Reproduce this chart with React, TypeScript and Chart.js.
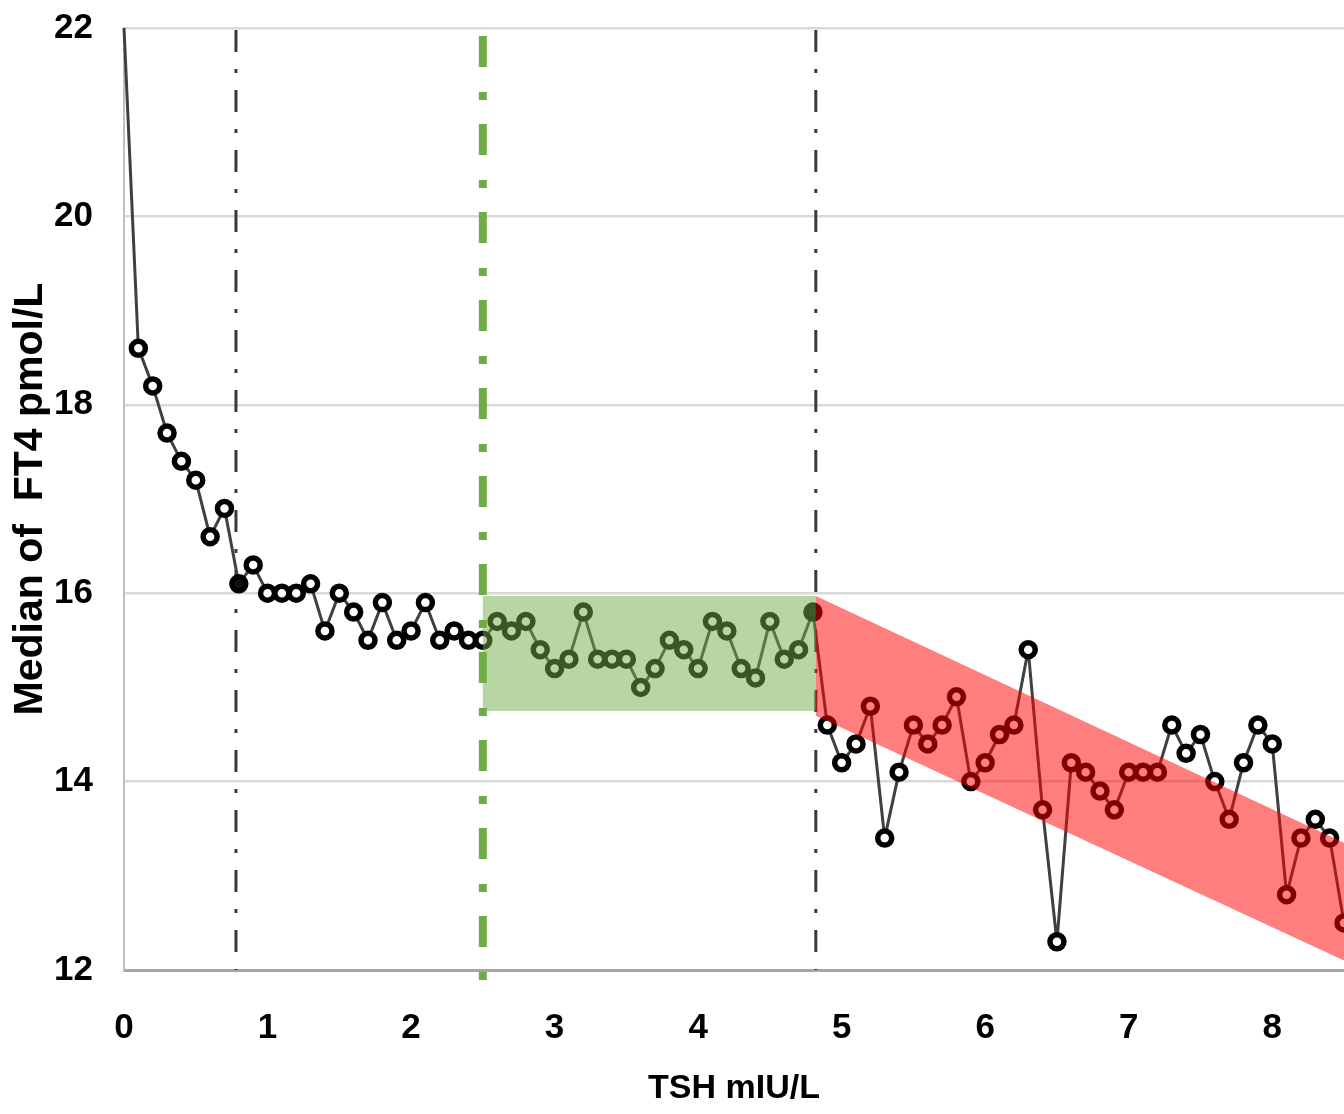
import React, { useEffect, useRef } from "react";
import { Chart, registerables } from "chart.js";

Chart.register(...registerables);

// TSH (mIU/L) categories
const tshValues = [
  0, 0.1, 0.2, 0.3, 0.4, 0.5, 0.6, 0.7, 0.8, 0.9,
  1.0, 1.1, 1.2, 1.3, 1.4, 1.5, 1.6, 1.7, 1.8, 1.9,
  2.0, 2.1, 2.2, 2.3, 2.4, 2.5, 2.6, 2.7, 2.8, 2.9,
  3.0, 3.1, 3.2, 3.3, 3.4, 3.5, 3.6, 3.7, 3.8, 3.9,
  4.0, 4.1, 4.2, 4.3, 4.4, 4.5, 4.6, 4.7, 4.8, 4.9,
  5.0, 5.1, 5.2, 5.3, 5.4, 5.5, 5.6, 5.7, 5.8, 5.9,
  6.0, 6.1, 6.2, 6.3, 6.4, 6.5, 6.6, 6.7, 6.8, 6.9,
  7.0, 7.1, 7.2, 7.3, 7.4, 7.5, 7.6, 7.7, 7.8, 7.9,
  8.0, 8.1, 8.2, 8.3, 8.4, 8.5,
];

// Median FT4 (pmol/L)
const ft4Median = [
  22.0, 18.6, 18.2, 17.7, 17.4, 17.2, 16.6, 16.9, 16.1, 16.3,
  16.0, 16.0, 16.0, 16.1, 15.6, 16.0, 15.8, 15.5, 15.9, 15.5,
  15.6, 15.9, 15.5, 15.6, 15.5, 15.5, 15.7, 15.6, 15.7, 15.4,
  15.2, 15.3, 15.8, 15.3, 15.3, 15.3, 15.0, 15.2, 15.5, 15.4,
  15.2, 15.7, 15.6, 15.2, 15.1, 15.7, 15.3, 15.4, 15.8, 14.6,
  14.2, 14.4, 14.8, 13.4, 14.1, 14.6, 14.4, 14.6, 14.9, 14.0,
  14.2, 14.5, 14.6, 15.4, 13.7, 12.3, 14.2, 14.1, 13.9, 13.7,
  14.1, 14.1, 14.1, 14.6, 14.3, 14.5, 14.0, 13.6, 14.2, 14.6,
  14.4, 12.8, 13.4, 13.6, 13.4, 12.5,
];

// highlighted (filled) points and hidden marker
const filledPoints = [0.8, 4.8];
const hiddenPoints = [0];

// Reference lines
const blackCutoffs = [0.78, 4.82];
const greenCutoff = 2.5;

// Plateau band (green)
const greenBandX = [2.5, 4.82];
const greenBandY = [14.75, 15.97];

// Declining band (red)
const redBandX = [4.82, 8.5];
const redBandTop = [15.97, 13.35];
const redBandBottom = [14.7, 12.1];

const yTicks = [12, 14, 16, 18, 20, 22];
const xTicks = [0, 1, 2, 3, 4, 5, 6, 7, 8];

const labelFont = "'Liberation Sans', Arial, sans-serif";

const linesPlugin = {
  id: "refLines",
  beforeDatasetsDraw(chart: any) {
    const { ctx, chartArea, scales } = chart;
    const xs = scales.x;
    ctx.save();
    // black dash-dot lines
    ctx.strokeStyle = "#3a3a3a";
    ctx.lineWidth = 3;
    ctx.setLineDash([22, 17, 4, 17]);
    blackCutoffs.forEach((v) => {
      const px = xs.getPixelForValue(v);
      ctx.beginPath();
      ctx.moveTo(px, chartArea.top + 2);
      ctx.lineTo(px, chartArea.bottom);
      ctx.stroke();
    });
    // green dash-dot line
    ctx.strokeStyle = "#70AD47";
    ctx.lineWidth = 8;
    ctx.setLineDash([31, 25, 8, 24]);
    const gx = xs.getPixelForValue(greenCutoff);
    ctx.beginPath();
    ctx.moveTo(gx, chartArea.top + 8);
    ctx.lineTo(gx, chartArea.bottom + 14);
    ctx.stroke();
    ctx.restore();
  },
  afterDatasetsDraw(chart: any) {
    const { ctx, chartArea, scales } = chart;
    const xs = scales.x;
    const ys = scales.y;
    ctx.save();
    ctx.beginPath();
    ctx.rect(chartArea.left, chartArea.top, chartArea.right - chartArea.left, chartArea.bottom - chartArea.top);
    ctx.clip();
    // green band
    ctx.fillStyle = "rgba(112,173,71,0.5)";
    const gx0 = xs.getPixelForValue(greenBandX[0]);
    const gx1 = xs.getPixelForValue(greenBandX[1]);
    const gy0 = ys.getPixelForValue(greenBandY[1]);
    const gy1 = ys.getPixelForValue(greenBandY[0]);
    ctx.fillRect(gx0, gy0, gx1 - gx0, gy1 - gy0);
    // red band
    ctx.fillStyle = "rgba(255,0,0,0.5)";
    ctx.beginPath();
    ctx.moveTo(xs.getPixelForValue(redBandX[0]), ys.getPixelForValue(redBandTop[0]));
    ctx.lineTo(xs.getPixelForValue(redBandX[1]), ys.getPixelForValue(redBandTop[1]));
    ctx.lineTo(xs.getPixelForValue(redBandX[1]), ys.getPixelForValue(redBandBottom[1]));
    ctx.lineTo(xs.getPixelForValue(redBandX[0]), ys.getPixelForValue(redBandBottom[0]));
    ctx.closePath();
    ctx.fill();
    ctx.restore();
  },
};

export default function App() {
  const canvasRef = useRef<HTMLCanvasElement | null>(null);

  useEffect(() => {
    document.body.style.margin = "0";
    const canvas = canvasRef.current;
    if (!canvas) return;
    const points = tshValues.map((x, i) => ({ x, y: ft4Median[i] }));
    const chart = new Chart(canvas, {
      type: "line",
      data: {
        datasets: [
          {
            data: points,
            borderColor: "#404040",
            borderWidth: 3,
            tension: 0,
            pointStyle: "circle",
            pointRadius: tshValues.map((x) => (hiddenPoints.includes(x) ? 0 : 7)),
            pointBorderWidth: 5.5,
            pointBorderColor: "#000000",
            pointBackgroundColor: tshValues.map((x) => (filledPoints.includes(x) ? "#111111" : "#ffffff")),
            clip: 12,
          },
        ],
      },
      options: {
        responsive: false,
        animation: false,
        layout: { autoPadding: false, padding: { top: 28, right: 0, left: 0, bottom: 0 } },
        plugins: {
          legend: { display: false },
          tooltip: { enabled: false },
        },
        scales: {
          x: {
            type: "linear",
            min: 0,
            max: 8.5,
            afterFit: (scale: any) => {
              scale.height = 144;
              scale.paddingLeft = 0;
              scale.paddingRight = 0;
            },
            afterBuildTicks: (scale: any) => {
              scale.ticks = xTicks.map((v) => ({ value: v }));
            },
            ticks: {
              padding: 37,
              color: "#000000",
              font: { family: labelFont, weight: "bold", size: 35 },
              maxRotation: 0,
            },
            grid: { display: false, drawTicks: false },
            border: { display: true, color: "#a6a6a6", width: 3 },
            title: {
              display: true,
              text: "TSH mIU/L",
              color: "#000000",
              font: { family: labelFont, weight: "bold", size: 34 },
              padding: { top: 0, bottom: 5 },
            },
          },
          y: {
            type: "linear",
            min: 12,
            max: 22,
            afterFit: (scale: any) => {
              scale.width = 124;
              scale.paddingTop = 0;
              scale.paddingBottom = 0;
            },
            afterBuildTicks: (scale: any) => {
              scale.ticks = yTicks.map((v) => ({ value: v }));
            },
            ticks: {
              padding: 31,
              color: "#000000",
              font: { family: labelFont, weight: "bold", size: 35 },
            },
            grid: { color: "#d9d9d9", lineWidth: 2.5, drawTicks: false },
            border: { display: true, color: "#bfbfbf", width: 2 },
            title: {
              display: true,
              text: "Median of  FT4 pmol/L",
              color: "#000000",
              font: { family: labelFont, weight: "bold", size: 41 },
              padding: { top: 6, bottom: 0 },
            },
          },
        },
      },
      plugins: [linesPlugin],
    });
    return () => chart.destroy();
  }, []);

  return (
    <div style={{ width: 1344, height: 1114 }}>
      <canvas ref={canvasRef} width={1344} height={1114} style={{ display: "block" }} />
    </div>
  );
}
